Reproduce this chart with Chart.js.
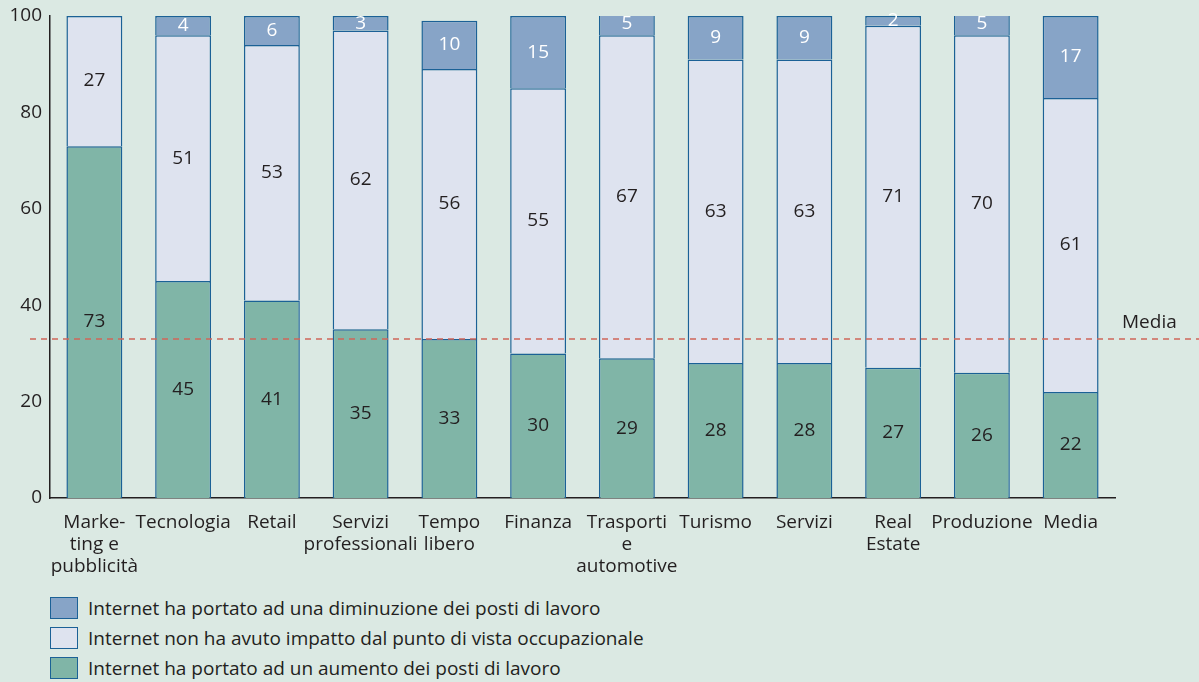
<!DOCTYPE html>
<html>
<head>
<meta charset="utf-8">
<script src="https://cdn.jsdelivr.net/npm/chart.js@4"></script>
<style>
    body { margin: 0; background: #dbe9e3; font-family: "Open Sans", sans-serif; }
    #wrap { position: relative; width: 1199px; height: 590px; }
    #legend { position: absolute; left: 50px; top: 593px; }
    .item { display: flex; align-items: center; height: 30px; font-size: 19px; color: #231f20; }
    .box { box-sizing: border-box; width: 28px; height: 22px; border: 1.5px solid #1b6196; margin-right: 10px; }
</style>
</head>
<body>
<div id="wrap"><canvas id="grafico"></canvas></div>
<div id="legend"></div>
<script>
// dati
const settori = [['Marke-', 'ting e', 'pubblicità'], 'Tecnologia', 'Retail', ['Servizi', 'professionali'], ['Tempo', 'libero'],
    'Finanza', ['Trasporti', 'e', 'automotive'], 'Turismo', 'Servizi', ['Real', 'Estate'], 'Produzione', 'Media']
const aumento = [73, 45, 41, 35, 33, 30, 29, 28, 28, 27, 26, 22]
const nessun_impatto = [27, 51, 53, 62, 56, 55, 67, 63, 63, 71, 70, 61]
const diminuzione = [0, 4, 6, 3, 10, 15, 5, 9, 9, 2, 5, 17]
const media_valore = 33
const y_ticks = [0, 20, 40, 60, 80, 100]

const nomi_serie = [
    'Internet ha portato ad una diminuzione dei posti di lavoro',
    'Internet non ha avuto impatto dal punto di vista occupazionale',
    'Internet ha portato ad un aumento dei posti di lavoro',
]

// etichette dentro le barre + linea media
const plugin_extra = {
    id: 'extra',
    afterDatasetsDraw(chart) {
        const ctx = chart.ctx
        ctx.save()
        ctx.font = '19px "Open Sans", sans-serif'
        ctx.textAlign = 'center'
        ctx.textBaseline = 'middle'
        chart.data.datasets.forEach((ds, i) => {
            const meta = chart.getDatasetMeta(i)
            meta.data.forEach((bar, j) => {
                const v = ds.data[j]
                if (!v) return
                ctx.fillStyle = ds.label === nomi_serie[0] ? '#ffffff' : '#231f20'
                ctx.fillText(String(v), bar.x, (bar.y + bar.base) / 2)
            })
        })
        // linea media
        const y = chart.scales.y.getPixelForValue(media_valore)
        ctx.strokeStyle = '#d0665a'
        ctx.lineWidth = 1.5
        ctx.setLineDash([6, 5])
        ctx.beginPath()
        ctx.moveTo(30, y)
        ctx.lineTo(chart.width, y)
        ctx.stroke()
        ctx.setLineDash([])
        ctx.fillStyle = '#231f20'
        ctx.textAlign = 'left'
        ctx.fillText('Media', 1122, y - 16)
        ctx.restore()
    }
}

let chart = document.querySelector('#grafico')
const grafico = new Chart(chart, {
    type: 'bar',
    data: {
        labels: settori,
        datasets: [
            {
                label: nomi_serie[2],
                data: aumento,
                backgroundColor: '#80b5a7',
                borderColor: '#1b6196',
                borderWidth: 1.5,
            },
            {
                label: nomi_serie[1],
                data: nessun_impatto,
                backgroundColor: '#dee3ef',
                borderColor: '#1b6196',
                borderWidth: 1.5,
            },
            {
                label: nomi_serie[0],
                data: diminuzione,
                backgroundColor: '#87a4c7',
                borderColor: '#1b6196',
                borderWidth: 1.5,
            },
        ],
    },
    options: {
        responsive: true,
        maintainAspectRatio: false,
        animation: false,
        layout: {
            padding: { top: 16, right: 84, left: 0, bottom: 0 }
        },
        datasets: {
            bar: {
                categoryPercentage: 0.63,
                barPercentage: 1.0,
            }
        },
        scales: {
            x: {
                stacked: true,
                grid: { display: false, drawTicks: false },
                border: { display: true, color: '#231f20', width: 1.5 },
                ticks: {
                    color: '#231f20',
                    font: { size: 19, family: '"Open Sans", sans-serif', lineHeight: 1.15 },
                    padding: 14,
                    maxRotation: 0,
                    autoSkip: false,
                },
                afterFit(scale) { scale.height = 92 },
            },
            y: {
                stacked: true,
                min: 0,
                max: 100,
                grid: { display: false, drawTicks: false },
                border: { display: true, color: '#231f20', width: 1.5 },
                afterBuildTicks(scale) { scale.ticks = y_ticks.map(v => ({ value: v })) },
                ticks: {
                    color: '#231f20',
                    font: { size: 19, family: '"Open Sans", sans-serif', lineHeight: 1 },
                    padding: 8,
                },
                afterFit(scale) {
                    scale.width = 50
                    scale.paddingTop = 0
                    scale.paddingBottom = 0
                },
            },
        },
        plugins: {
            legend: { display: false },
            tooltip: { enabled: false },
        },
    },
    plugins: [plugin_extra],
})

// legenda html
const legenda = document.querySelector('#legend')
const ordine = [2, 1, 0]
ordine.forEach(i => {
    const ds = grafico.data.datasets[i]
    const item = document.createElement('div')
    item.className = 'item'
    item.innerHTML = `<span class="box" style="background:${ds.backgroundColor}"></span><span>${ds.label}</span>`
    legenda.appendChild(item)
})
</script>
</body>
</html>
